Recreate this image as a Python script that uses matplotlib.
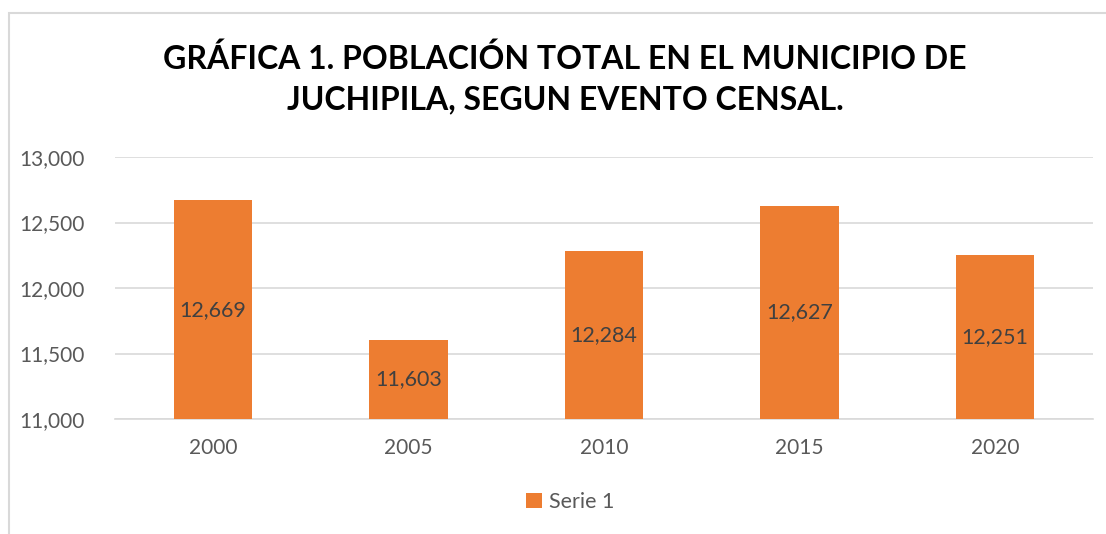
import matplotlib.pyplot as plt
from matplotlib.patches import Rectangle

plt.rcParams['font.family'] = ['Lato', 'DejaVu Sans']

# datos del censo
years = ['2000', '2005', '2010', '2015', '2020']
population = [12669, 11603, 12284, 12627, 12251]
yticks = [11000, 11500, 12000, 12500, 13000]

orange = '#ED7D31'
grey_text = '#595959'

fig = plt.figure(figsize=(11.06, 5.34), dpi=100)
ax = fig.add_axes([115 / 1106, 1 - 419 / 534, (1093 - 115) / 1106, (419 - 157) / 534])

x = range(len(years))
bars = ax.bar(x, [p - 11000 for p in population], bottom=11000, width=0.4,
              color=orange, label='Serie 1', zorder=3)

# etiquetas centradas dentro de cada barra
for xi, p in zip(x, population):
    ax.text(xi, (p + 11000) / 2, f'{p:,}', ha='center', va='center',
            fontsize=15.5, color='#404040', zorder=4)

ax.set_xlim(-0.5, len(years) - 0.5)
ax.set_ylim(11000, 13000)
ax.set_yticks(yticks)
ax.set_yticklabels([f'{t:,}' for t in yticks])
ax.set_xticks(list(x))
ax.set_xticklabels(years)
ax.tick_params(axis='both', length=0, labelsize=15, labelcolor=grey_text)
ax.tick_params(axis='y', pad=22)
ax.tick_params(axis='x', pad=14)
ax.grid(axis='y', color='#d9d9d9', linewidth=1.2, zorder=0)
for s in ['top', 'right', 'left']:
    ax.spines[s].set_visible(False)
ax.spines['bottom'].set_color('#d9d9d9')
ax.spines['bottom'].set_linewidth(1.2)

fig.text(565 / 1106, 1 - 79 / 534,
         'GRÁFICA 1. POBLACIÓN TOTAL EN EL MUNICIPIO DE\nJUCHIPILA, SEGUN EVENTO CENSAL.',
         ha='center', va='center', fontsize=23, fontweight='bold', color='black',
         linespacing=1.45)

leg = fig.legend(handles=[bars], labels=['Serie 1'], loc='center',
                 bbox_to_anchor=(570 / 1106, 1 - 502 / 534), frameon=False,
                 fontsize=15.5, handlelength=0.75, handleheight=0.75, handletextpad=0.3)
for t in leg.get_texts():
    t.set_color(grey_text)

# borde del área del gráfico
fig.add_artist(Rectangle((9 / 1106, -0.1), 1.2, 1 - 13 / 534 + 0.1,
                         transform=fig.transFigure, fill=False,
                         edgecolor='#d9d9d9', linewidth=1.5))

fig.savefig('out.png', dpi=100)
